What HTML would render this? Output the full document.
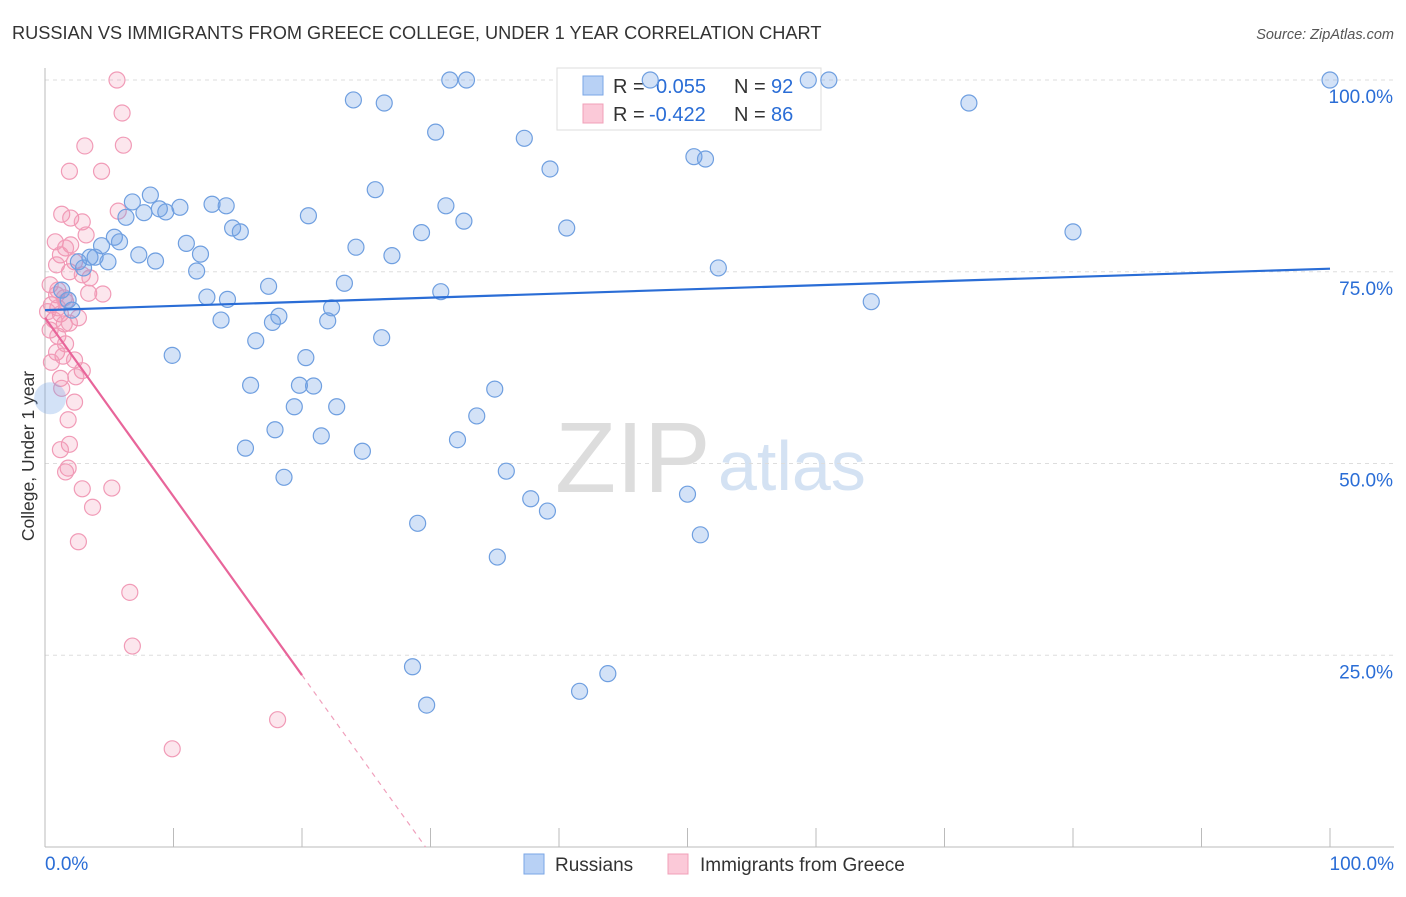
<!DOCTYPE html>
<html><head><meta charset="utf-8">
<style>
body{margin:0;background:#fff;font-family:"Liberation Sans",sans-serif;}
svg text{font-family:"Liberation Sans",sans-serif;}
</style></head>
<body>
<svg id="chart" width="1406" height="892">
<text x="12" y="39" font-size="18.2" fill="#333">RUSSIAN VS IMMIGRANTS FROM GREECE COLLEGE, UNDER 1 YEAR CORRELATION CHART</text>
<text x="1394" y="39" font-size="14.5" fill="#555" font-style="italic" text-anchor="end">Source: ZipAtlas.com</text>
<text x="34" y="456" font-size="17.5" fill="#333" transform="rotate(-90 34 456)" text-anchor="middle">College, Under 1 year</text>
<text x="555" y="492" font-size="100" fill="#ddd" font-family="Liberation Serif">ZIP</text>
<text x="718" y="490" font-size="70" fill="#d4e2f3">atlas</text>
<g id="grid"></g>
<g>
<rect x="557" y="68" width="264" height="62" fill="#fff" stroke="#ddd"/>
<rect x="583" y="76" width="20" height="19" fill="#b8d1f5" stroke="#7aa6e6"/>
<text x="613" y="93" font-size="20" fill="#333">R = <tspan x="656" fill="#2a6dd6">0.055</tspan></text>
<text x="734" y="93" font-size="20" fill="#333">N = <tspan x="771" fill="#2a6dd6">92</tspan></text>
<rect x="583" y="104" width="20" height="19" fill="#fbc9d8" stroke="#f0a0b8"/>
<text x="613" y="121" font-size="20" fill="#333">R = <tspan x="649" fill="#2a6dd6">-0.422</tspan></text>
<text x="734" y="121" font-size="20" fill="#333">N = <tspan x="771" fill="#2a6dd6">86</tspan></text>
</g>
<g id="pts"></g><g id="lines"></g>
<g>
<rect x="524" y="854" width="20" height="20" fill="#b8d1f5" stroke="#7aa6e6"/>
<text x="555" y="871" font-size="19" fill="#333">Russians</text>
<rect x="668" y="854" width="20" height="20" fill="#fbc9d8" stroke="#f0a0b8"/>
<text x="700" y="871" font-size="19" fill="#333">Immigrants from Greece</text>
</g>
</svg>
<script>
const yTicks=[100,75,50,25];
const yTickLabels=["100.0%","75.0%","50.0%","25.0%"];
const xTicks=[0,10,20,30,40,50,60,70,80,90,100];
const blueX=[24.0,26.4,31.5,32.8,47.1,59.4,61.0,100,71.9,30.4,37.3,39.3,50.5,51.4,25.7,31.2,32.6,20.5,29.3,40.6,80.0,24.2,27.0,52.4,64.3,30.8,23.3,22.3,22.0,26.2,20.3,19.8,20.9,19.4,22.7,21.5,24.7,16.0,17.9,15.6,18.6,35.0,33.6,32.1,35.9,37.8,39.1,50.0,51.0,29.0,35.2,28.6,29.7,41.6,43.8,9.9,13.7,16.4,17.4,17.7,18.2,14.2,12.6,11.8,12.1,11.0,13.0,14.1,14.6,15.2,10.5,9.4,8.9,8.2,7.7,6.8,6.3,5.4,5.8,4.4,3.5,3.9,4.9,7.3,8.6,3.0,2.6,1.3,2.1,1.8];
const blueY=[97.4,97.0,100,100,100,100,100,100,97.0,93.2,92.4,88.4,90.0,89.7,85.7,83.6,81.6,82.3,80.1,80.7,80.2,78.2,77.1,75.5,71.1,72.4,73.5,70.3,68.6,66.4,63.8,60.2,60.1,57.4,57.4,53.6,51.6,60.2,54.4,52.0,48.2,59.7,56.2,53.1,49.0,45.4,43.8,46.0,40.7,42.2,37.8,23.5,18.5,20.3,22.6,64.1,68.7,66.0,73.1,68.4,69.2,71.4,71.7,75.1,77.3,78.7,83.8,83.6,80.7,80.2,83.4,82.8,83.2,85.0,82.7,84.1,82.1,79.5,78.9,78.4,76.9,76.9,76.3,77.2,76.4,75.5,76.3,72.6,70.0,71.3];
const pinkX=[5.6,6.0,6.1,3.1,1.9,4.4,1.3,2.0,2.9,5.7,3.2,0.8,2.0,1.6,1.2,2.3,0.9,1.9,2.9,3.5,0.4,1.0,1.5,3.4,4.5,0.5,1.2,2.6,1.5,1.9,0.4,1.0,1.6,0.9,1.4,2.3,0.5,2.9,2.4,1.2,1.3,2.3,1.8,1.9,1.2,1.8,1.6,2.9,5.2,3.7,2.6,6.6,6.8,18.1,9.9,0.9,0.7,1.0,1.6,0.2];
const pinkY=[100,95.7,91.5,91.4,88.1,88.1,82.5,82.0,81.5,82.9,79.8,78.9,78.5,78.1,77.2,76.3,75.9,75.0,74.6,74.2,73.3,72.6,71.6,72.2,72.1,70.7,69.5,69.0,68.2,68.3,67.4,66.6,65.6,64.5,64.0,63.5,63.2,62.1,61.3,61.1,59.8,58.0,55.7,52.5,51.8,49.4,48.9,46.7,46.8,44.3,39.8,33.2,26.2,16.6,12.8,72.0,68.7,70.3,71.1,69.8];
const blueFit=[70.0,75.4];
const pinkFit=[69.0,-2.33];
const X=v=>45+v*12.85, Y=v=>847-v*7.67;
const NS="http://www.w3.org/2000/svg";
function mk(t,a,p){const e=document.createElementNS(NS,t);for(const k in a)e.setAttribute(k,a[k]);p.appendChild(e);return e;}
const g=document.getElementById('grid');
yTicks.forEach((t,i)=>{
 const l=mk('line',{x1:45,x2:1394,y1:Y(t),y2:Y(t),stroke:'#ddd','stroke-dasharray':'4,4'},g);
 
 
 const tx=mk('text',{x:1393,y:Y(t)+23,'font-size':19,fill:'#2a6dd6','text-anchor':'end'},g);tx.textContent=yTickLabels[i];
 
 
});
const ax=mk('line',{x1:45,x2:45,y1:68,y2:847,stroke:'#bbb'},g);


const bx=mk('line',{x1:45,x2:1394,y1:847,y2:847,stroke:'#bbb'},g);


xTicks.forEach(t=>{
 const l=mk('line',{x1:X(t),x2:X(t),y1:828,y2:847,stroke:'#bbb'},g);
 
 
});
const x0=mk('text',{x:45,y:870,'font-size':19,fill:'#2a6dd6'},g);x0.textContent='0.0%';


const x1=mk('text',{x:1394,y:870,'font-size':19,fill:'#2a6dd6','text-anchor':'end'},g);x1.textContent='100.0%';


const P=document.getElementById('pts');
pinkX.forEach((x,i)=>{
 const c=mk('circle',{cx:X(x),cy:Y(pinkY[i]),r:8,fill:'rgba(243,140,175,0.22)',stroke:'#f19bb7','stroke-width':1.2},P);
 
 
});
blueX.forEach((x,i)=>{
 const c=mk('circle',{cx:X(x),cy:Y(blueY[i]),r:8,fill:'rgba(110,160,230,0.3)',stroke:'#6f9fe0','stroke-width':1.2},P);
 
 
});
const big=mk('circle',{cx:X(0.4),cy:Y(58.5),r:16,fill:'rgba(110,160,230,0.3)',stroke:'none'},P);


const L=document.getElementById('lines');
const bl=mk('line',{x1:X(0),y1:Y(blueFit[0]),x2:X(100),y2:Y(blueFit[1]),stroke:'#2a6dd6','stroke-width':2.2},L);


const pf=x=>pinkFit[0]+pinkFit[1]*x;
const pl=mk('line',{x1:X(0),y1:Y(pf(0)),x2:X(20),y2:Y(pf(20)),stroke:'#e8659a','stroke-width':2.2},L);


const xe=pinkFit[0]/-pinkFit[1];
const pd=mk('line',{x1:X(20),y1:Y(pf(20)),x2:X(xe),y2:Y(0),stroke:'#f0a0bc','stroke-width':1.2,'stroke-dasharray':'5,5'},L);


</script>
</body></html>
